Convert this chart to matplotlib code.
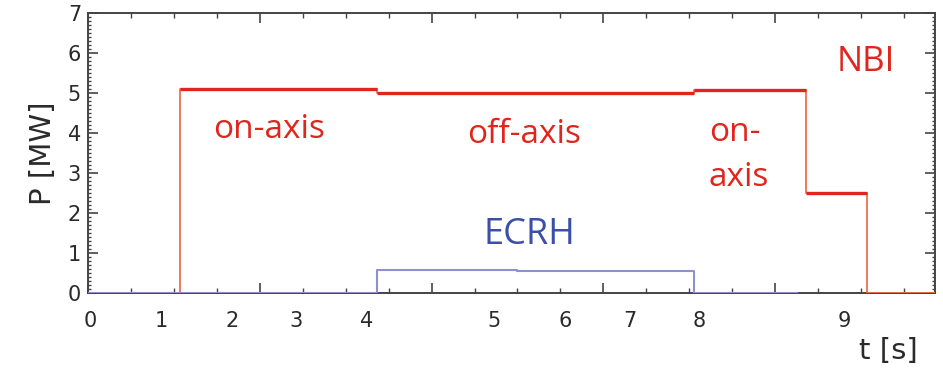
import matplotlib.pyplot as plt
from matplotlib.ticker import MultipleLocator

# time axis is drawn in plot units (1 unit = one small tick), labels placed separately
t_nbi = [0, 2.14, 2.14, 6.74, 6.74, 14.10, 14.10, 16.71, 16.71, 18.14, 18.14, 19.72]
p_nbi = [0, 0, 5.10, 5.10, 5.01, 5.01, 5.07, 5.07, 2.50, 2.50, 0, 0]

t_ecrh = [0, 6.74, 6.74, 10.0, 10.0, 14.10, 14.10, 16.5]
p_ecrh = [0, 0, 0.58, 0.58, 0.54, 0.54, 0, 0]

# plateaus of NBI (drawn thicker)
nbi_lev_start = [2.14, 6.74, 14.10, 16.71]
nbi_lev_end = [6.74, 14.10, 16.71, 18.14]
nbi_lev = [5.10, 5.01, 5.07, 2.50]

# positions of the time labels 0..9 on the axis
t_label_pos = [0.05, 1.70, 3.36, 4.85, 6.48, 9.46, 11.12, 12.61, 14.24, 17.62]
t_labels = [str(i) for i in range(10)]

red = '#e0261c'
red_thin = '#ee7050'
blue = '#3c4fa8'
blue_thin = '#8d92cc'
frame = '#444444'

fig = plt.figure(figsize=(9.43, 3.80), dpi=100)
ax = fig.add_axes([0.0933, 0.229, 0.9915 - 0.0933, 0.737])

ax.plot(t_nbi, p_nbi, color=red_thin, lw=1.3, zorder=3)
ax.hlines(nbi_lev, nbi_lev_start, nbi_lev_end, color=red, lw=2.4, zorder=4)
ax.plot(t_ecrh, p_ecrh, color=blue_thin, lw=1.5, zorder=5)

ax.set_xlim(0, 19.72)
ax.set_ylim(0, 7)

ax.xaxis.set_major_locator(MultipleLocator(4))
ax.xaxis.set_minor_locator(MultipleLocator(1))
ax.yaxis.set_major_locator(MultipleLocator(1))
ax.yaxis.set_minor_locator(MultipleLocator(0.1))
ax.tick_params(which='both', direction='in', top=True, right=True, color=frame)
ax.tick_params(which='major', length=7, width=1.2)
ax.tick_params(which='minor', length=3.5, width=1.0)
ax.tick_params(axis='x', which='both', labelbottom=False)
ax.tick_params(axis='y', which='major', labelsize=15, labelcolor='#2a2a2a', pad=5)
ax.tick_params(axis='y', which='minor', length=2.5)

for s in ax.spines.values():
    s.set_color(frame)
    s.set_linewidth(1.4)

sec = ax.secondary_xaxis('bottom')
sec.set_xticks(t_label_pos)
sec.set_xticklabels(t_labels)
sec.tick_params(length=0, labelsize=15, labelcolor='#2a2a2a', pad=13)
sec.spines['bottom'].set_visible(False)

ax.set_ylabel('P [MW]', fontsize=21, color='#2a2a2a', labelpad=8)
fig.text(0.9417, 0.077, 't [s]', fontsize=21, color='#2a2a2a', ha='center', va='center')

tf = ['Open Sans', 'DejaVu Sans']
ax.text(4.22, 4.08, 'on-axis', color=red, fontsize=24, family=tf, ha='center', va='center')
ax.text(10.16, 3.95, 'off-axis', color=red, fontsize=24, family=tf, ha='center', va='center')
ax.text(14.45, 4.0, 'on-', color=red, fontsize=24, family=tf, ha='left', va='center')
ax.text(14.45, 2.88, 'axis', color=red, fontsize=24, family=tf, ha='left', va='center')
ax.text(18.11, 5.78, 'NBI', color=red, fontsize=25, family=tf, ha='center', va='center')
ax.text(10.28, 1.45, 'ECRH', color=blue, fontsize=26, family=tf, ha='center', va='center')

fig.savefig('out.png', dpi=100)
